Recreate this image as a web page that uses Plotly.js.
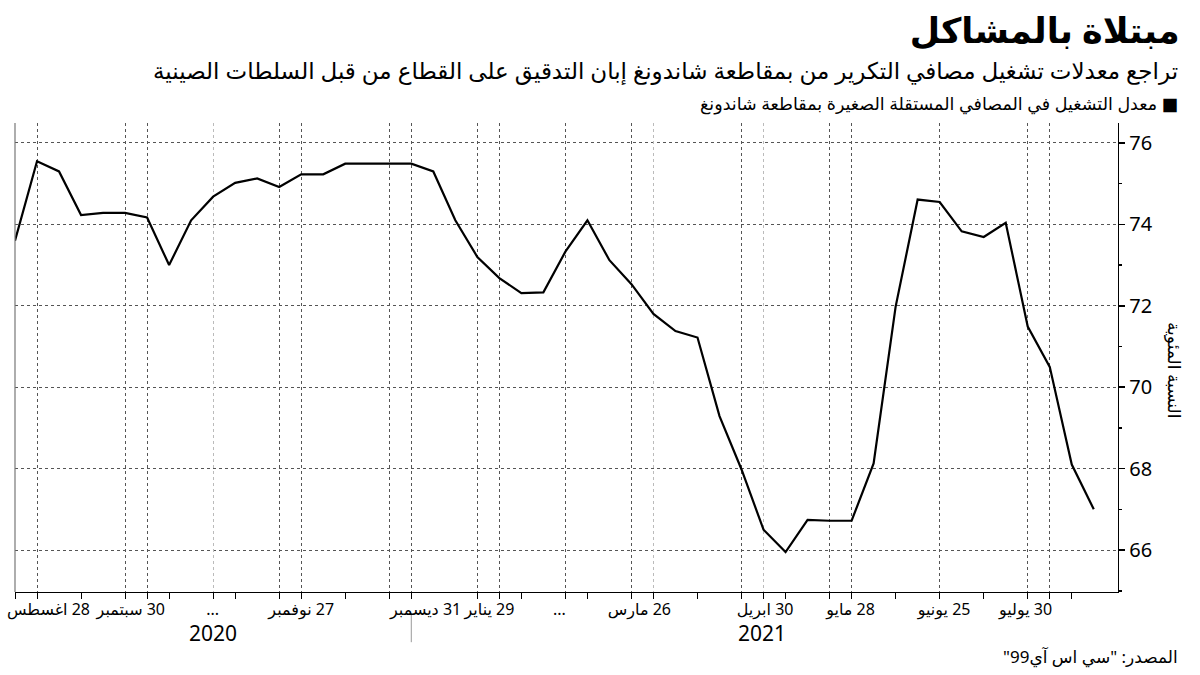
<!DOCTYPE html>
<html>
<head>
<meta charset="utf-8">
<script src="https://cdn.plot.ly/plotly-3.0.1.min.js"></script>
<style>html,body{margin:0;padding:0;background:#fff;}#chart{width:1200px;height:675px;}</style>
</head>
<body>
<div id="chart"></div>
<script>
// Weekly operating rate (%), small independent refineries in Shandong
const weekIndex = [0,1,2,3,4,5,6,7,8,9,10,11,12,13,14,15,16,17,18,19,20,21,22,23,24,25,26,27,28,29,30,31,32,33,34,35,36,37,38,39,40,41,42,43,44,45,46,47,48,49];
const rate = [73.6, 75.55, 75.3, 74.23, 74.28, 74.28, 74.17, 73.0, 74.1, 74.68, 75.02, 75.13, 74.92, 75.23, 75.23, 75.49, 75.49, 75.49, 75.49, 75.3, 74.1, 73.2, 72.68, 72.31, 72.33, 73.33, 74.1, 73.12, 72.53, 71.8, 71.38, 71.22, 69.29, 67.98, 66.5, 65.95, 66.74, 66.72, 66.72, 68.13, 71.98, 74.61, 74.55, 73.83, 73.69, 74.04, 71.49, 70.5, 68.1, 67.0];

// x-axis decoration positions (in week index units)
const gridDark = [1,5,6,12,13,17,18,21,22,25,28,33,37,38,42,46,47];
const gridLight = [9,29,34];
const tickPos = [0,1,3,5,6,7,9,10,12,13,15,17,18,21,22,23,25,26,28,29,31,33,34,35,37,38,40,42,44,46,47,48];
const labelPos = [1.52, 5.26, 8.98, 13.0, 18.65, 21.55, 24.73, 28.36, 34.07, 37.95, 42.2, 45.9];
const labelText = ["28 اغسطس","30 سبتمبر","...","27 نوفمبر","31 ديسمبر","29 يناير","...","26 مارس","30 ابريل","28 مايو","25 يونيو","30 يوليو"];
const yearPos = [9.0, 33.95];
const yearText = ["2020","2021"];
const yearBreak = 18;
const yTicks = [66,68,70,72,74,76];

const RLM = "\u200F";
const FONT = "Noto Sans, DejaVu Sans, sans-serif";

const main = {x: weekIndex, y: rate, type: 'scatter', mode: 'lines',
  line: {color: '#000', width: 2.2}, hoverinfo: 'x+y', showlegend: false};
const ghost = ax => ({x: weekIndex, y: rate, type: 'scatter', mode: 'lines', xaxis: ax,
  line: {color: 'rgba(0,0,0,0)', width: 0}, hoverinfo: 'skip', showlegend: false});

const xr = [0, 50.1];
const baseX = {range: xr, showline: false, zeroline: false, fixedrange: true};

const layout = {
  width: 1200, height: 675,
  margin: {l: 15, r: 82, t: 123, b: 83},
  paper_bgcolor: '#fff', plot_bgcolor: '#fff',
  font: {family: FONT, color: '#000'},
  title: {text: 'مبتلاة بالمشاكل', x: 0.983, xref: 'container', xanchor: 'right',
    y: 0.955, yref: 'container', yanchor: 'middle',
    font: {family: FONT, size: 35, weight: 'bold', color: '#000'}},
  xaxis: Object.assign({}, baseX, {
    tickmode: 'array', tickvals: gridDark, showticklabels: false, ticks: '',
    showgrid: true, gridcolor: '#555', griddash: 'dot', gridwidth: 1,
    showline: true, linecolor: '#000', linewidth: 1.2}),
  xaxis2: Object.assign({}, baseX, {overlaying: 'x', anchor: 'y',
    tickmode: 'array', tickvals: gridLight, showticklabels: false, ticks: '',
    showgrid: true, gridcolor: '#bbb', griddash: 'dot', gridwidth: 1}),
  xaxis3: Object.assign({}, baseX, {overlaying: 'x', anchor: 'y',
    tickmode: 'array', tickvals: tickPos, showticklabels: false,
    ticks: 'outside', ticklen: 6, tickcolor: '#000', tickwidth: 1, showgrid: false}),
  xaxis4: Object.assign({}, baseX, {overlaying: 'x', anchor: 'y',
    tickmode: 'array', tickvals: labelPos, ticktext: labelText.map(t => RLM + t),
    ticks: 'outside', ticklen: 3, tickcolor: 'rgba(0,0,0,0)', showgrid: false,
    tickfont: {family: FONT, size: 16, color: '#000'}}),
  yaxis: {side: 'right', range: [64.97, 76.49], tickmode: 'array', tickvals: yTicks,
    showgrid: true, gridcolor: '#555', griddash: 'dot', gridwidth: 1,
    zeroline: false, showline: true, linecolor: '#000', linewidth: 1.2,
    ticks: 'outside', ticklen: 6, tickcolor: '#000', tickwidth: 1.5,
    minor: {dtick: 1, ticks: 'outside', ticklen: 3, tickcolor: '#000', showgrid: false},
    tickfont: {family: FONT, size: 20, color: '#000'}, fixedrange: true},
  shapes: [
    {type: 'line', xref: 'paper', yref: 'paper', x0: 0, x1: 0, y0: 0, y1: 1,
      line: {color: '#777', width: 1.2}},
    {type: 'line', xref: 'x', yref: 'paper', x0: yearBreak, x1: yearBreak, y0: -0.049, y1: -0.107,
      line: {color: '#999', width: 1}}
  ],
  annotations: [
    {text: 'تراجع معدلات تشغيل مصافي التكرير من بمقاطعة شاندونغ إبان التدقيق على القطاع من قبل السلطات الصينية',
      xref: 'paper', yref: 'paper', x: 1.056, xanchor: 'right', y: 1 + (123 - 70) / 469, yanchor: 'middle',
      showarrow: false, font: {family: FONT, size: 23, color: '#000'}},
    {text: 'معدل التشغيل في المصافي المستقلة الصغيرة بمقاطعة شاندونغ' + ' ■',
      xref: 'paper', yref: 'paper', x: 1.056, xanchor: 'right', y: 1 + (123 - 103) / 469, yanchor: 'middle',
      showarrow: false, font: {family: FONT, size: 17.5, color: '#000'}},
    {text: RLM + 'المصدر: "سي اس آي99"' + RLM,
      xref: 'paper', yref: 'paper', x: 1.056, xanchor: 'right', y: -(656 - 592) / 469, yanchor: 'middle',
      showarrow: false, font: {family: FONT, size: 17, color: '#000'}},
    {text: 'النسبة المئوية', textangle: 90,
      xref: 'paper', yref: 'paper', x: (1175 - 15) / 1103, xanchor: 'center', y: (592 - 370) / 469, yanchor: 'middle',
      showarrow: false, font: {family: FONT, size: 17, color: '#000'}},
    {text: yearText[0], xref: 'x', yref: 'paper', x: yearPos[0], y: -(633 - 592) / 469, yanchor: 'middle',
      showarrow: false, font: {family: FONT, size: 21, color: '#000'}},
    {text: yearText[1], xref: 'x', yref: 'paper', x: yearPos[1], y: -(633 - 592) / 469, yanchor: 'middle',
      showarrow: false, font: {family: FONT, size: 21, color: '#000'}}
  ]
};

Plotly.newPlot('chart', [main, ghost('x2'), ghost('x3'), ghost('x4')], layout, {displayModeBar: false, staticPlot: true});
</script>
</body>
</html>
